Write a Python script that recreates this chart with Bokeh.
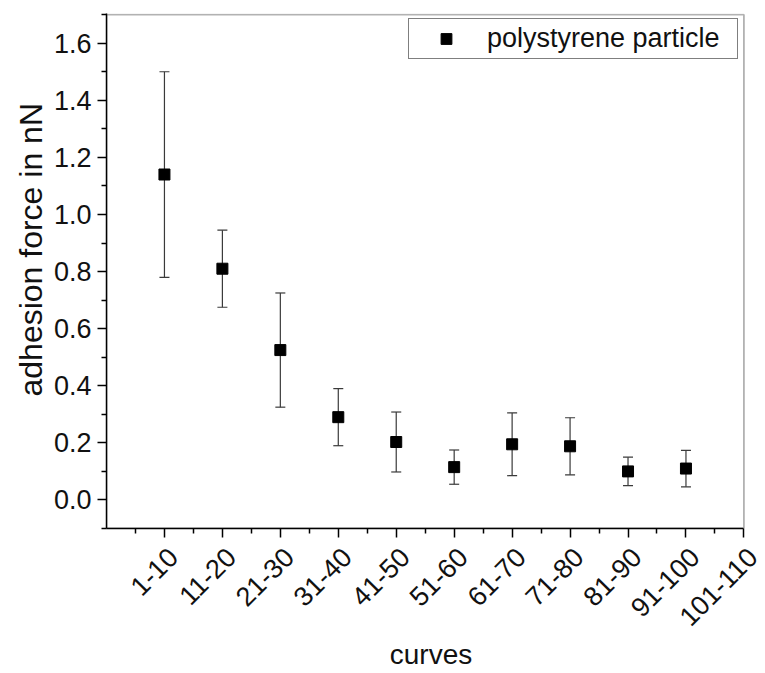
import math

from bokeh.embed import file_html
from bokeh.models import (BoxAnnotation, ColumnDataSource, FixedTicker, Legend, LegendItem,
                          LinearAxis, NumeralTickFormatter, Range1d, TeeHead, Title, Whisker)
from bokeh.plotting import figure
from bokeh.resources import INLINE

# curve groups (x categories) and measured adhesion force (nN) with its spread
groups = ["1-10", "11-20", "21-30", "31-40", "41-50", "51-60",
          "61-70", "71-80", "81-90", "91-100", "101-110"]
adhesion = [1.14, 0.81, 0.525, 0.29, 0.203, 0.115, 0.195, 0.188, 0.10, 0.11]
spread = [0.36, 0.135, 0.20, 0.10, 0.105, 0.06, 0.11, 0.10, 0.05, 0.064]

y_major = [0.0, 0.2, 0.4, 0.6, 0.8, 1.0, 1.2, 1.4, 1.6]
y_minor = [-0.1, 0.1, 0.3, 0.5, 0.7, 0.9, 1.1, 1.3, 1.5, 1.7]

FONT = "Liberation Sans"
INK = "#111111"

pos = list(range(1, len(groups) + 1))
n = len(adhesion)
x_end = len(groups)          # right edge of the boxed area
pad = 0.2                    # extra room on the right for the last slanted label
y_lo, y_hi = -0.1, 1.7
src = ColumnDataSource(dict(
    x=pos[:n],
    y=adhesion,
    lower=[m - e for m, e in zip(adhesion, spread)],
    upper=[m + e for m, e in zip(adhesion, spread)],
))

p = figure(width=765, height=673, output_backend="svg", toolbar_location=None,
           x_range=Range1d(0, x_end + pad), y_range=Range1d(y_lo, y_hi + 0.004),
           min_border_left=106, min_border_right=10, min_border_top=13,
           min_border_bottom=145, background_fill_color="white",
           border_fill_color="white")
p.grid.visible = False
p.outline_line_color = None

# box around the data area (stops at the last group, not at the padded range end)
p.add_layout(BoxAnnotation(left=0, right=x_end, bottom=y_lo, top=y_hi,
                           fill_alpha=0, line_color="black", line_width=1.8))

# error bars
err = Whisker(source=src, base="x", lower="lower", upper="upper",
              line_color="#3a3a3a", line_width=1.2,
              upper_head=TeeHead(size=10, line_color="#3a3a3a", line_width=1.2),
              lower_head=TeeHead(size=10, line_color="#3a3a3a", line_width=1.2))
p.add_layout(err)

pts = p.scatter("x", "y", source=src, marker="square", size=11,
                fill_color="black", line_color="black")

# y axis
ya = p.yaxis[0]
ya.ticker = FixedTicker(ticks=y_major, minor_ticks=y_minor)
ya.formatter = NumeralTickFormatter(format="0.0")
ya.major_label_text_font = FONT
ya.major_label_text_font_size = "27px"
ya.major_label_text_color = INK
ya.major_label_standoff = 6
ya.axis_line_width = 1.5
ya.major_tick_in = 0
ya.major_tick_out = 9
ya.minor_tick_in = 0
ya.minor_tick_out = 5
ya.major_tick_line_width = 1.5
ya.minor_tick_line_width = 1.5

# y title, sitting a little above the middle of the axis
p.add_layout(Title(text="adhesion force in nN", align="left", offset=132,
                   vertical_align="middle", standoff=2,
                   text_font=FONT, text_font_size="32px", text_font_style="normal",
                   text_color=INK), "left")

# x axis: tick marks only, line stops at the box edge
xa = p.xaxis[0]
xa.bounds = (0, x_end)
xa.ticker = FixedTicker(ticks=pos, minor_ticks=[c - 0.5 for c in pos])
xa.major_label_overrides = {c: "" for c in pos}
xa.major_label_text_font_size = "0px"
xa.major_label_standoff = 0
xa.axis_line_width = 1.5
xa.major_tick_in = 0
xa.major_tick_out = 9
xa.minor_tick_in = 0
xa.minor_tick_out = 5
xa.major_tick_line_width = 1.5
xa.minor_tick_line_width = 1.5

# x axis: slanted group labels, nudged so the label ends sit beside each tick
shift = 0.15
lab_pos = [c + shift for c in pos]
xl = LinearAxis(ticker=FixedTicker(ticks=lab_pos, minor_ticks=[]),
                major_label_overrides={c: g for c, g in zip(lab_pos, groups)},
                major_label_orientation=math.pi / 4,
                major_label_text_font=FONT, major_label_text_font_size="27px",
                major_label_text_line_height=1.0,
                major_label_text_color=INK, major_label_standoff=15,
                axis_line_color=None, major_tick_line_color=None,
                minor_tick_line_color=None, major_tick_out=0, major_tick_in=0,
                axis_label="curves", axis_label_text_font=FONT,
                axis_label_text_font_size="28px", axis_label_text_font_style="normal",
                axis_label_text_line_height=1.0,
                axis_label_text_color=INK, axis_label_standoff=1)
p.add_layout(xl, "below")

# legend box: left edge and bottom edge given in pixels from the frame's lower-left corner
legend = Legend(items=[LegendItem(label="polystyrene particle", renderers=[pts])],
                location=(302, 469), margin=0, padding=4,
                glyph_width=66, glyph_height=27, label_standoff=8,
                label_width=246, label_height=28,
                label_text_font=FONT, label_text_font_size="27px",
                label_text_color=INK,
                border_line_color="black", border_line_width=1,
                background_fill_color="white", background_fill_alpha=1)
p.add_layout(legend)

open("out.html", "w").write(file_html(p, INLINE))
